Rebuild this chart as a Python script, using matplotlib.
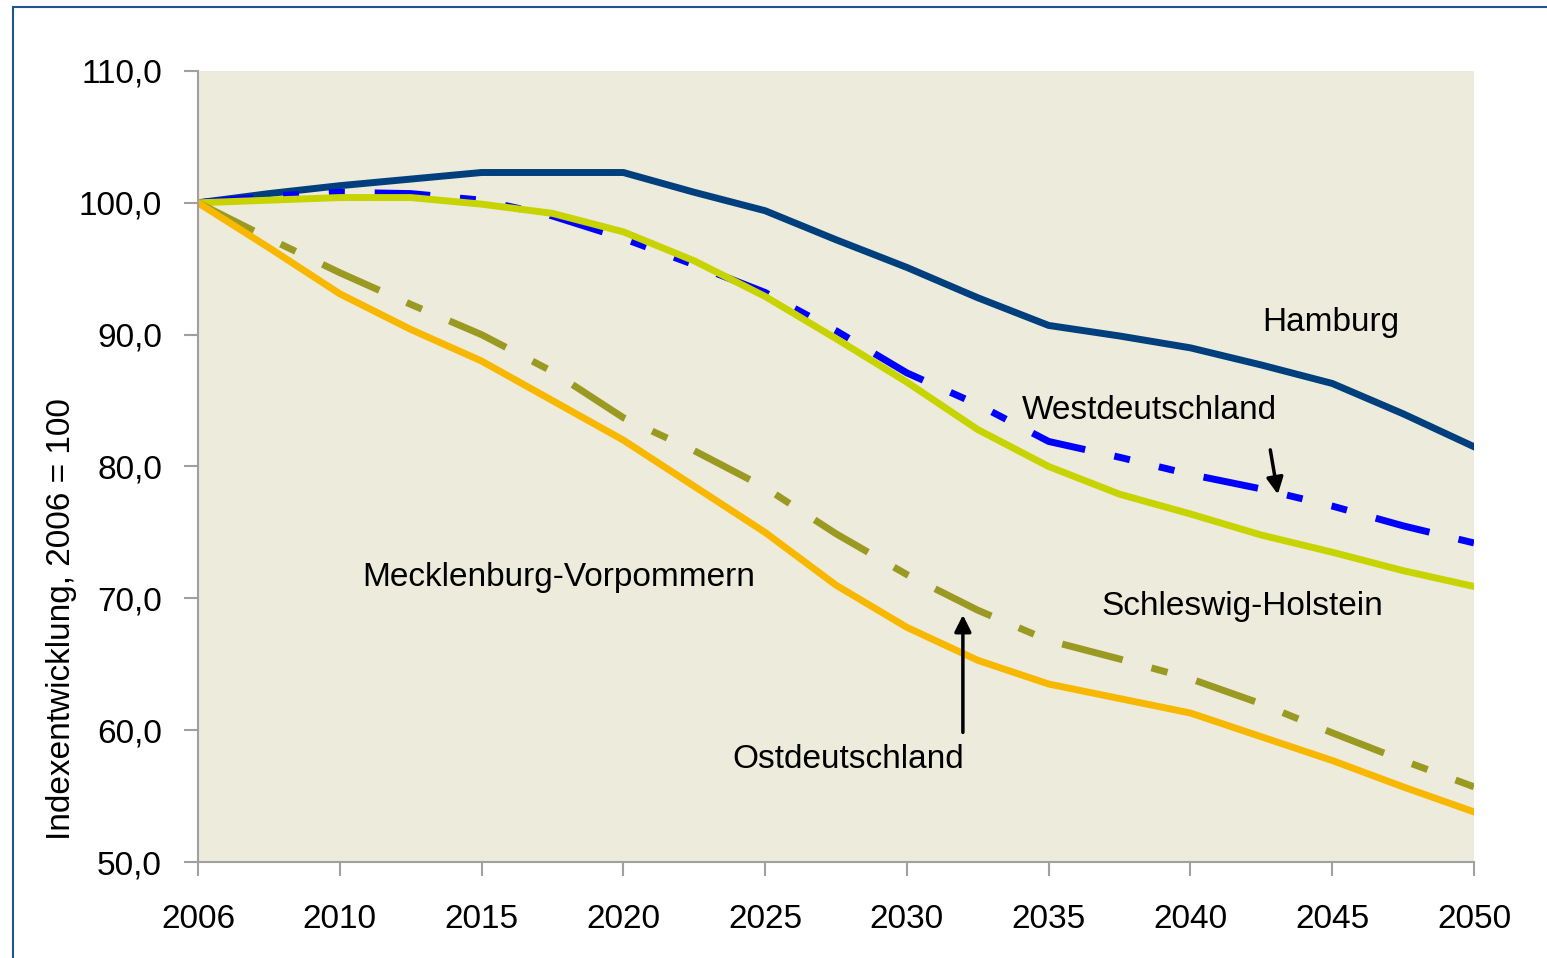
import numpy as np
import matplotlib.pyplot as plt
from matplotlib.patches import Rectangle
from matplotlib.ticker import FuncFormatter

plt.rcParams['font.family'] = ['Liberation Sans', 'DejaVu Sans']

years = ['2006', '2010', '2015', '2020', '2025', '2030', '2035', '2040', '2045', '2050']

# readings every half category step (2006, ~2008, 2010, ~2012, 2015, ...)
hamburg = [100.0, 100.7, 101.3, 101.8, 102.3, 102.3, 102.3, 100.8, 99.4, 97.2,
           95.1, 92.8, 90.7, 89.9, 89.0, 87.7, 86.3, 84.0, 81.5]
westdeutschland = [100.0, 100.5, 100.8, 100.7, 100.2, 99.0, 97.3, 95.3, 93.2, 90.3,
                   87.1, 84.7, 81.9, 80.7, 79.4, 78.3, 77.0, 75.5, 74.2]
schleswig_holstein = [100.0, 100.2, 100.4, 100.4, 99.9, 99.2, 97.8, 95.6, 92.9, 89.7,
                      86.4, 82.8, 80.0, 77.9, 76.4, 74.8, 73.5, 72.1, 70.9]
ostdeutschland = [100.0, 97.3, 94.7, 92.3, 90.0, 87.2, 83.7, 81.2, 78.4, 74.9,
                  71.8, 69.1, 66.8, 65.4, 63.9, 62.0, 59.8, 57.7, 55.7]
mecklenburg_vp = [100.0, 96.6, 93.1, 90.4, 88.0, 85.0, 82.0, 78.5, 75.0, 71.0,
                  67.8, 65.3, 63.5, 62.4, 61.3, 59.5, 57.7, 55.7, 53.8]

x = np.arange(len(hamburg)) / 2.0

fig = plt.figure(figsize=(15.47, 9.58), dpi=100)
ax = fig.add_axes([0.128, 0.1002, 0.8248, 0.8257])
ax.set_facecolor('#EDEBDC')

ax.plot(x, hamburg, color='#003F7D', lw=5)
ax.plot(x, westdeutschland, color='#0000FF', lw=5,
        ls=(0, (8, 4.3, 2.3, 4.3, 2.3, 4.3)), dash_capstyle='butt')
ax.plot(x, schleswig_holstein, color='#C8D400', lw=5)
ax.plot(x, ostdeutschland, color='#9A9A22', lw=5,
        ls=(0, (9, 4.3, 2.4, 4.3)), dash_capstyle='butt')
ax.plot(x, mecklenburg_vp, color='#F9B800', lw=5)

ax.set_xlim(0, 9)
ax.set_ylim(50, 110)
ax.set_xticks(range(len(years)))
ax.set_xticklabels(years)
ax.set_yticks(np.arange(50, 111, 10))
ax.yaxis.set_major_formatter(FuncFormatter(lambda v, p: f'{v:.1f}'.replace('.', ',')))

for s in ['top', 'right']:
    ax.spines[s].set_visible(False)
for s in ['left', 'bottom']:
    ax.spines[s].set_color('#A0A0A0')
    ax.spines[s].set_linewidth(1.5)
ax.tick_params(axis='both', direction='out', length=10, width=1.5, color='#A0A0A0',
               labelsize=24, pad=16)
ax.tick_params(axis='x', pad=20)

ax.set_ylabel('Indexentwicklung, 2006 = 100', fontsize=24)
ax.yaxis.set_label_coords(-0.095, 0.307)

fs = 24
ax.text(7.51, 90.96, 'Hamburg', fontsize=fs, va='center', ha='left')
ax.text(5.81, 84.28, 'Westdeutschland', fontsize=fs, va='center', ha='left')
ax.text(6.375, 69.41, 'Schleswig-Holstein', fontsize=fs, va='center', ha='left')
ax.text(1.157, 71.61, 'Mecklenburg-Vorpommern', fontsize=fs, va='center', ha='left')
ax.text(3.766, 57.8, 'Ostdeutschland', fontsize=fs, va='center', ha='left')

arrow = dict(arrowstyle='-|>', color='black', lw=2.5, mutation_scale=25)
ax.annotate('', xy=(7.62, 77.68), xytext=(7.56, 81.47), arrowprops=arrow)
ax.annotate('', xy=(5.395, 68.95), xytext=(5.395, 59.62), arrowprops=arrow)

# blue frame around the chart
fig.patches.append(Rectangle((13 / 1547, -0.05), 1.2, 1 - 7 / 958 + 0.05,
                             transform=fig.transFigure, fill=False,
                             edgecolor='#1F5497', lw=1.5))

fig.savefig('out.png', dpi=100)
